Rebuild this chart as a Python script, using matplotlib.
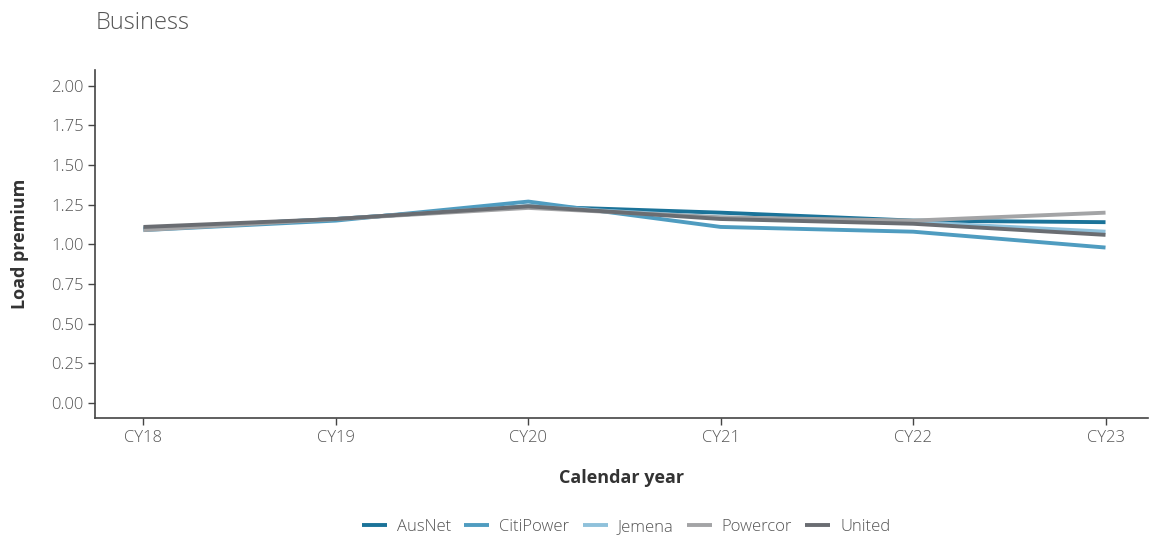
import matplotlib
matplotlib.use("Agg")
import matplotlib.pyplot as plt

plt.rcParams['font.family'] = ['Open Sans', 'DejaVu Sans']

# data
years = ['CY18', 'CY19', 'CY20', 'CY21', 'CY22', 'CY23']
ausnet = [1.10, 1.16, 1.24, 1.20, 1.15, 1.14]
citipower = [1.09, 1.15, 1.27, 1.11, 1.08, 0.98]
jemena = [1.10, 1.16, 1.24, 1.17, 1.14, 1.08]
powercor = [1.09, 1.16, 1.23, 1.17, 1.15, 1.20]
united = [1.11, 1.16, 1.24, 1.16, 1.13, 1.06]

series = [
    ('AusNet', ausnet, '#1b7399'),
    ('CitiPower', citipower, '#4f9cc0'),
    ('Jemena', jemena, '#8fc1db'),
    ('Powercor', powercor, '#a3a4a6'),
    ('United', united, '#6a6d72'),
]

fig = plt.figure(figsize=(11.49, 5.38), dpi=100)
ax = fig.add_axes([0.083, 0.223, 0.916, 0.647])

x = list(range(len(years)))
for name, vals, col in series:
    ax.plot(x, vals, color=col, lw=2.8, label=name, solid_capstyle='butt')

ax.set_xlim(-0.25, 5.22)
ax.set_ylim(-0.095, 2.10)
ax.set_xticks(x)
ax.set_xticklabels(years, fontweight='light')
ax.set_yticks([0, 0.25, 0.5, 0.75, 1.0, 1.25, 1.5, 1.75, 2.0])
ax.set_yticklabels(['%.2f' % v for v in ax.get_yticks()], fontweight='light')
ax.tick_params(colors='#444444', labelsize=12, length=5, width=1, labelcolor='#555555')
for s in ['top', 'right']:
    ax.spines[s].set_visible(False)
for s in ['left', 'bottom']:
    ax.spines[s].set_color('#444444')
    ax.spines[s].set_linewidth(1.2)

ax.set_xlabel('Calendar year', fontsize=13, fontweight='bold', color='#333333', labelpad=17)
ax.set_ylabel('Load premium', fontsize=13, fontweight='bold', color='#333333', labelpad=16)

fig.text(0.083, 0.957, 'Business', fontsize=17, color='#555555', va='center', ha='left',
         fontweight='light')

fig.legend(loc='center', bbox_to_anchor=(0.545, 0.02), ncol=5, frameon=False,
           prop={'size': 12, 'weight': 'light'}, handlelength=1.5, columnspacing=0.8,
           handletextpad=0.6, labelcolor='#555555')

fig.savefig('out.png', dpi=100)
